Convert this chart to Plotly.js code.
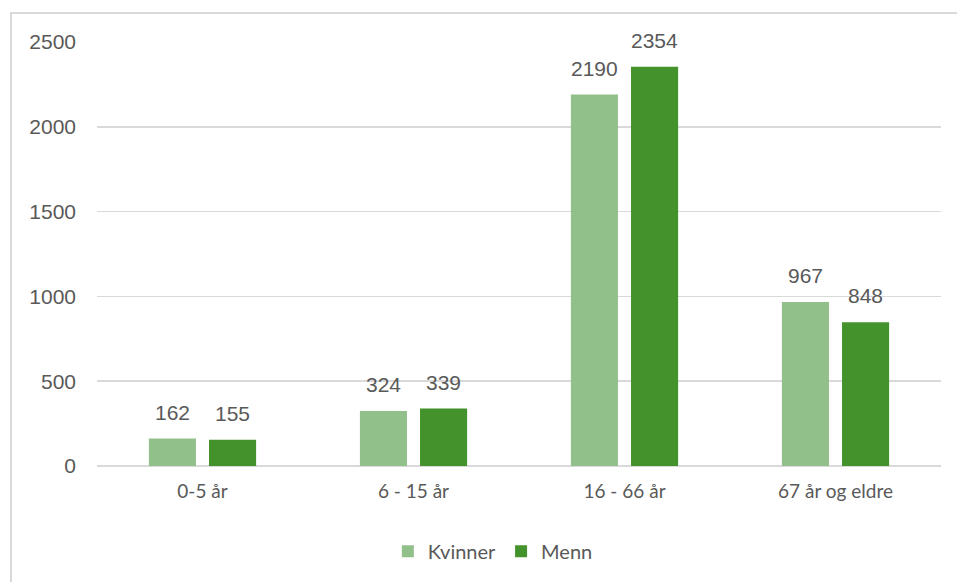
<!DOCTYPE html>
<html>
<head>
<meta charset="utf-8">
<script src="https://cdn.plot.ly/plotly-3.0.1.min.js"></script>
<style>
  html, body { margin: 0; padding: 0; background: #ffffff; }
  #wrap { position: relative; width: 957px; height: 582px; overflow: hidden; }
  #frame { position: absolute; left: 10px; top: 12px; width: 960px; height: 600px;
           border-left: 2px solid #d9d9d9; border-top: 2px solid #d9d9d9; pointer-events: none; }
  #chart { position: absolute; left: 0; top: 0; width: 957px; height: 582px; }
</style>
</head>
<body>
<div id="wrap">
  <div id="chart"></div>
  <div id="frame"></div>
</div>
<script>
const categories = ["0-5 år", "6 - 15 år", "16 - 66 år", "67 år og eldre"];
const kvinner = [162, 324, 2190, 967];
const menn = [155, 339, 2354, 848];
const yTicks = [0, 500, 1000, 1500, 2000, 2500];

const labelFont = {family: "Liberation Sans, Arial, sans-serif", size: 21, color: "#595959"};

const traces = [
  {type: "bar", name: "Kvinner", x: categories, y: kvinner,
   marker: {color: "#92C08A"}, hoverinfo: "x+y"},
  {type: "bar", name: "Menn", x: categories, y: menn,
   marker: {color: "#44922B"}, hoverinfo: "x+y"}
];

// data labels placed via the axes, shifted to the bar position within each group
const annotations = [];
categories.forEach((c, i) => {
  annotations.push({x: c, y: kvinner[i], xref: "x", yref: "y", text: String(kvinner[i]),
    showarrow: false, xshift: -30, yshift: 13, yanchor: "bottom", font: labelFont});
  annotations.push({x: c, y: menn[i], xref: "x", yref: "y", text: String(menn[i]),
    showarrow: false, xshift: 30, yshift: 13, yanchor: "bottom", font: labelFont});
});

const layout = {
  width: 957, height: 582,
  margin: {l: 97, r: 16, t: 42, b: 116},
  paper_bgcolor: "#ffffff", plot_bgcolor: "#ffffff",
  barmode: "group", bargap: 0.43, bargroupgap: 0.217,
  showlegend: true,
  annotations: annotations,
  legend: {orientation: "h", xref: "container", yref: "container", x: 0.515, xanchor: "center",
           y: 0.053, yanchor: "middle",
           font: {family: "Lato, sans-serif", size: 20, color: "#595959"}, itemwidth: 30},
  xaxis: {type: "category", showgrid: false, showline: false, zeroline: false, ticks: "",
          ticklabelstandoff: 12,
          tickfont: {family: "Lato, sans-serif", size: 19, color: "#595959"}},
  yaxis: {range: [0, 2500], tickvals: yTicks, ticktext: yTicks.map(String),
          showgrid: true, gridcolor: "#d9d9d9", gridwidth: 1.5,
          zeroline: true, zerolinecolor: "#d9d9d9", zerolinewidth: 1.5,
          showline: false, ticks: "", ticklabelstandoff: 20,
          tickfont: {family: "Liberation Sans, Arial, sans-serif", size: 21, color: "#595959"}},
  font: {family: "Lato, sans-serif", color: "#595959"}
};

Plotly.newPlot("chart", traces, layout, {displayModeBar: false, staticPlot: true});
</script>
</body>
</html>
